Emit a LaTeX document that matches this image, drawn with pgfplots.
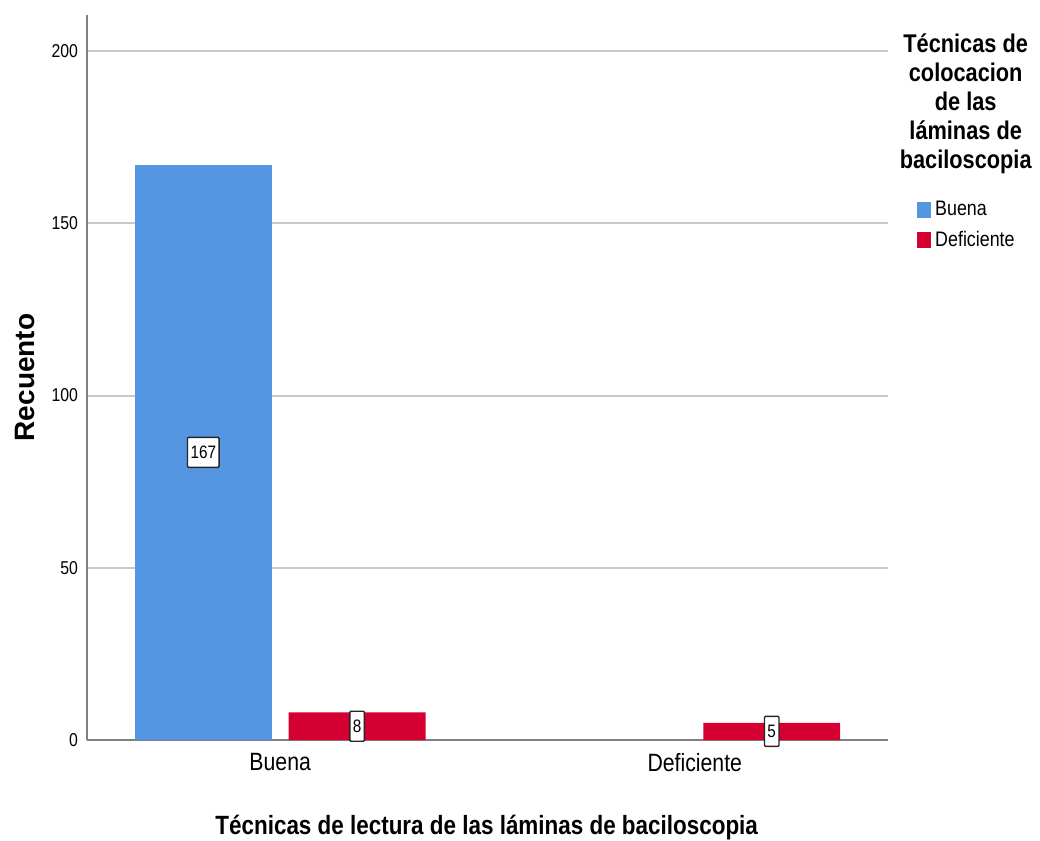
\documentclass[border=0pt]{standalone}
\usepackage{pgfplots}
\pgfplotsset{compat=1.18}
\usepackage{fontspec}
\setmainfont{Liberation Sans}[FakeStretch=0.85]
\newfontfamily\ylfont{Liberation Sans}
\definecolor{cblue}{RGB}{85,150,226}
\definecolor{cred}{RGB}{213,0,50}
\definecolor{axgray}{RGB}{128,128,128}
\definecolor{gridgray}{RGB}{200,200,200}
\begin{document}
\begin{tikzpicture}
\useasboundingbox (-43.5pt,-50.5pt) rectangle (476.5pt,370pt);
\begin{axis}[
  at={(0pt,0pt)}, anchor=south west,
  scale only axis, width=400.5pt, height=362.5pt,
  xmin=-0.466, xmax=1.466, ymin=0, ymax=210.5,
  axis lines*=left,
  axis line style={axgray, line width=0.8pt},
  ymajorgrids, grid style={gridgray, line width=1pt},
  major tick length=0pt,
  ytick={0,50,100,150,200},
  xtick={0,1}, xticklabels={Buena,Deficiente},
  /pgf/number format/assume math mode=true,
  yticklabel style={font=\fontsize{9.3}{10}\selectfont, xshift=-1pt},
  xticklabel style={font=\fontsize{12.5}{14}\selectfont, yshift=-3pt},
  xlabel={Técnicas de lectura de las láminas de baciloscopia},
  ylabel={Recuento},
  xlabel style={font=\bfseries\fontsize{13.2}{15}\selectfont, at={(axis description cs:0.499,-0.121)}, anchor=center},
  ylabel style={font=\ylfont\bfseries\fontsize{14}{16}\selectfont, at={(axis description cs:-0.0774,0.5)}, anchor=center},
  legend style={at={(rel axis cs:1.036,0.749)}, anchor=north west, draw=none, fill=none,
    font=\fontsize{10.5}{12}\selectfont, row sep=2pt, inner sep=0pt,
    /tikz/every even column/.append style={column sep=0pt}},
  legend cell align=left,
  legend image code/.code={\fill[#1] (0pt,-4pt) rectangle (7pt,4pt);},
  clip=false,
]
\addplot[ybar, bar width=0.33, bar shift=-0.1855, fill=cblue, draw=none] coordinates {(0,167)};
\addlegendentry{Buena}
\addplot[ybar, bar width=0.33, bar shift=0.1855, fill=cred, draw=none] coordinates {(0,8) (1,5)};
\addlegendentry{Deficiente}
\addplot[only marks, mark=none, point meta=explicit symbolic, forget plot,
  nodes near coords,
  every node near coord/.style={anchor=center, draw=black!85, fill=white, line width=0.7pt,
    inner sep=1.5pt, rounded corners=0.5pt, font=\fontsize{9}{10}\selectfont, minimum height=15pt}]
  coordinates {(-0.1855,83.5) [167] (0.1855,4) [8] (1.1855,2.5) [5]};
\node[align=center, font=\bfseries\fontsize{12.8}{14.5}\selectfont, anchor=center]
  at (rel axis cs:1.097,0.877) {Técnicas de\\colocacion\\de las\\láminas de\\baciloscopia};
\end{axis}
\end{tikzpicture}
\end{document}
